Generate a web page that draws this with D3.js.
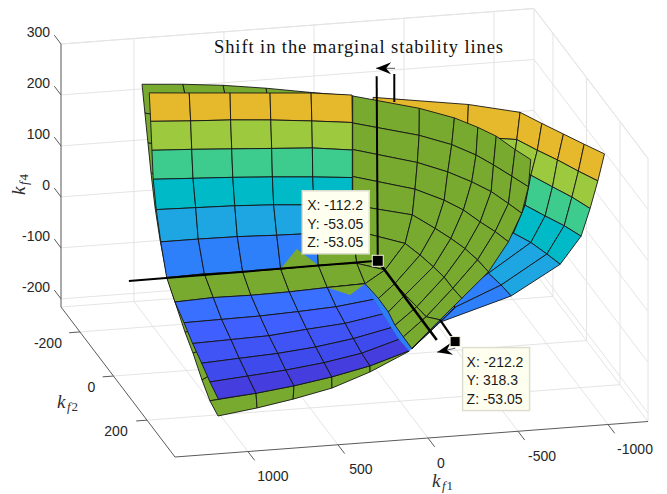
<!DOCTYPE html>
<html><head><meta charset="utf-8">
<script src="https://cdn.jsdelivr.net/npm/d3@7/dist/d3.min.js"></script>
<style>html,body{margin:0;padding:0;background:#fff}svg{display:block}</style>
</head><body><div id="c"></div>
<script>
// ---- axis ticks
const kf1Ticks=[1000,500,0,-500,-1000];
const kf2Ticks=[-200,0,200];
const kf4Ticks=[300,200,100,0,-100,-200];
const kf1Lim=[1405,-1222], kf2Lim=[367,-313], kf4Lim=[-216,300];
// ---- surface bands (coloured by kf4)
const bandColours=["#e6b92d","#9dc93f","#3ecb8e","#00bac8","#1ea6e3","#2e7ffa"];
const lowerColours=["#3a70ff","#3f60ff","#4054f6","#3f4aec","#453ddd"];
const green="#78aa2f";
// ---- far surface, kf2 = 318
const farKf2=318;
const farKf1=[
[259,-270,-557,-678,-798,-913,-1026],
[259,-263,-539,-653,-765,-881,-989],
[259,-241,-517,-617,-737,-845,-946],
[259,-207,-483,-585,-696,-802,-896],
[259,-129,-409,-520,-617,-706,-780],
[259,-41,-298,-335,-381,-452,-507],
[-2,-57,-113,-113,-168,-196,-113],
[44,44,44,44,44,44,44]];
const farKf4=[
[438,410,387,362,338,315,293],
[384,348,334,310,288,263,241],
[315,282,275,262,236,213,188],
[256,224,210,204,180,158,135],
[197,167,166,151,130,105,83],
[148,136,117,103,76,51,28],
[34,52,56,44,29,14,-13],
[-61,-61,-61,-61,-61,-61,-61]];
// ---- near coloured surface, kf2 = -53
const nearKf2=-53;
const panelKf1=[
[1157,935,708,486,258,31],
[1149,927,705,482,254,29],
[1142,921,699,477,251,29],
[1135,914,693,473,249,29],
[1118,899,682,466,242,29],
[1093,885,668,449,227,31],
[1060,851,638,427,218,4],
[1014,801,592,379,168,-42],
[964,755,542,329,119,-92],
[916,703,492,282,69,-143],
[866,657,443,232,23,-190],
[820,610,399,186,-23,-232],
[773,564,353,143,-69,-288]];
const panelKf4=[
[310,304,298,292,286,276],
[254,249,245,239,231,222],
[197,193,188,183,178,168],
[140,136,132,127,121,114],
[80,78,76,72,66,59],
[16,16,15,12,10,5],
[-55,-53,-55,-55,-53,-55],
[-104,-101,-102,-101,-98,-96],
[-146,-145,-144,-141,-137,-128],
[-188,-186,-184,-177,-171,-158],
[-228,-224,-220,-213,-202,-186],
[-266,-260,-254,-245,-232,-210],
[-301,-295,-286,-274,-258,-234]];
const sliverKf1=[-42,-181,-236,-292,-329,-288];
const sliverKf4=[-96,-125,-156,-188,-212,-234];
const notchUpper=[338,-18], notchLower=[42,-116];
// ---- green rim behind the panel
const rimLeftKf1=[1197,1181,1164,1147,1125,1097,1058,1014,958,914,864,820,775];
const rimLeftKf4=[328,271,212,152,85,20,-54,-104,-165,-207,-261,-303,-334];
const rimTopKf1=[1197,970,747,508,275,25];
const rimTopKf4=[328,322,314,302,288,274];
const rimBottomKf1=[775,558,358,142,-69,-281];
const rimBottomKf4=[-334,-324,-312,-296,-270,-236];
// ---- front green fan
const fanKf1=[
[27,-343,-538,-668,-770,-875,-962],
[27,-342,-523,-658,-755,-857,-949],
[27,-332,-501,-634,-742,-838,-912],
[27,-319,-481,-588,-681,-764,-838],
[27,-304,-431,-518,-597,-666,-727],
[27,-264,-347,-421,-481,-529,-579],
[4,-153,-208,-264,-329,-381,-458],
[-42,-42,-116,-171,-208,-254,-301]];
const fanKf4=[
[274,240,216,194,174,145,123],
[221,187,164,140,118,93,70],
[169,134,111,88,66,40,19],
[116,82,56,34,8,-13,-35],
[60,32,2,-20,-42,-66,-91],
[11,-23,-48,-73,-95,-118,-139],
[-55,-72,-100,-124,-149,-170,-178],
[-96,-96,-127,-155,-182,-206,-230]];
// ---- annotation lines [kf1,kf2,kf4]
const tip1=[-112.2,-53.05,-53.05], tip2=[-196,318.3,-53.05];
const tip1Text=["X: -112.2","Y: -53.05","Z: -53.05"];
const tip2Text=["X: -212.2","Y: 318.3","Z: -53.05"];
const stabilityLines=[
 [[1270,-53,-56],tip1,2],
 [[-106,-53,309],tip1,2],
 [[-204,-53,311],[-204,-53,256],2],
 [tip1,[-440,-53,-217],2.6],
 [[-458,-53,-178],tip2,2.2]];
const arrows=[
 [[-208,-53,322],[-103,-53,325]],
 [[-542,-53,-236],[-442,-53,-241]]];
const titleText="Shift in the marginal stability lines";

// ---- projection through scales
const W=667,H=494;
const x1=d3.scaleLinear().domain(kf1Lim).range([175,648]);
const y1=d3.scaleLinear().domain(kf1Lim).range([457,421.5]);
const x2=d3.scaleLinear().domain(kf2Lim).range([0,-114]);
const y2=d3.scaleLinear().domain(kf2Lim).range([0,-150]);
const z=d3.scaleLinear().domain(kf4Lim).range([0,-263]);
const project=(a,b,c)=>[x1(a)+x2(b),y1(a)+y2(b)+z(c)];
const svg=d3.select("#c").append("svg").attr("width",W).attr("height",H)
 .style("font-family","'Liberation Sans',Arial,sans-serif");
const line=d3.line();
const seg=(p,q,col,w)=>svg.append("path").attr("d",line([project(...p),project(...q)])).attr("stroke",col).attr("stroke-width",w).attr("fill","none");

// ---- grid walls
const gridCol="#e4e4e4";
const [aMax,aMin]=kf1Lim,[bMax,bMin]=kf2Lim,[cMin,cMax]=kf4Lim;
kf4Ticks.forEach(c=>{seg([aMax,bMin,c],[aMin,bMin,c],gridCol,1);seg([aMin,bMin,c],[aMin,bMax,c],gridCol,1);});
kf1Ticks.forEach(a=>{seg([a,bMin,cMin],[a,bMin,cMax],gridCol,1);seg([a,bMin,cMin],[a,bMax,cMin],gridCol,1);});
kf2Ticks.forEach(b=>{seg([aMin,b,cMin],[aMin,b,cMax],gridCol,1);seg([aMax,b,cMin],[aMin,b,cMin],gridCol,1);});
seg([aMax,bMin,cMax],[aMin,bMin,cMax],gridCol,1);
seg([aMin,bMin,cMax],[aMin,bMax,cMax],gridCol,1);
seg([aMin,bMin,cMin],[aMin,bMin,cMax],gridCol,1);
seg([aMin,bMin,cMin],[aMin,bMax,cMin],gridCol,1);
seg([aMin,bMax,cMin],[aMin,bMax,cMax],gridCol,1);
seg([aMax,bMin,cMin],[aMin,bMin,cMin],gridCol,1);

// ---- axes
seg([aMax,bMin,cMin],[aMax,bMin,cMax],"#959595",1.6);
seg([aMax,bMin,cMin],[aMax,bMax,cMin],"#5a5a5a",1);
seg([aMax,bMax,cMin],[aMin,bMax,cMin],"#5a5a5a",1);
kf4Ticks.forEach(c=>seg([aMax,bMin,c],[aMax,bMin-40,c],"#5a5a5a",1));
kf2Ticks.forEach(b=>seg([aMax,b,cMin],[aMax+60,b,cMin],"#5a5a5a",1));
kf1Ticks.forEach(a=>seg([a,bMax,cMin],[a,bMax+40,cMin],"#5a5a5a",1));
const tickFont={size:14,col:"#262626"};
const label=(x,y,t,anchor)=>svg.append("text").attr("x",x).attr("y",y).attr("text-anchor",anchor||"middle")
 .attr("dominant-baseline","central").attr("font-size",tickFont.size).attr("fill",tickFont.col).text(t);
kf4Ticks.forEach(c=>{const p=project(aMax,bMin,c);label(p[0]-11,p[1]-12,c,"end");});
const kf2Off=[[-32,11],[-22,11],[-31,11]];
kf2Ticks.forEach((b,i)=>{const p=project(aMax,b,cMin);label(p[0]+kf2Off[i][0],p[1]+kf2Off[i][1],b);});
const kf1Off=[[25,24],[23,24],[13,25],[24,25],[27,24]];
kf1Ticks.forEach((a,i)=>{const p=project(a,bMax,cMin);label(p[0]+kf1Off[i][0],p[1]+kf1Off[i][1],a);});
function mathLabel(x,y,sub,rot){
 const t=svg.append("text").attr("transform",`translate(${x},${y}) rotate(${rot})`)
  .attr("font-family","'Liberation Serif',serif").attr("fill","#303030");
 t.append("tspan").attr("font-style","italic").attr("font-size",19).text("k");
 t.append("tspan").attr("font-style","italic").attr("font-size",13).attr("dy",3).attr("dx",1.5).text("f");
 t.append("tspan").attr("font-size",13).attr("dx",1).text(sub);
}
mathLabel(25,195,"4",-90);
mathLabel(57,408,"2",0);
mathLabel(432,487,"1",0);

// ---- surfaces
const stroke="#161616";
function quad(pts,fill,sw,sc){
 svg.append("path").attr("d",line(pts)+"Z").attr("fill",fill).attr("stroke",sc===undefined?stroke:sc).attr("stroke-width",sw===undefined?0.9:sw).attr("stroke-linejoin","round");
}
function gridNodes(k1,k4,k2){return k1.map((r,i)=>r.map((v,j)=>project(v,k2,k4[i][j])));}
function drawGrid(nodes,colour){
 for(let i=0;i<nodes.length-1;i++)for(let j=0;j<nodes[0].length-1;j++)
  quad([nodes[i][j],nodes[i][j+1],nodes[i+1][j+1],nodes[i+1][j]],colour(i,j));
}
const farColours=[...bandColours,bandColours[5]];
drawGrid(gridNodes(farKf1,farKf4,farKf2),i=>farColours[i]);

// green rim built from its outer edges and the panel's nodes
const panel=gridNodes(panelKf1,panelKf4,nearKf2);
const rim=panel.map((r,i)=>r.map((n,j)=>{
 if(j===0)return project(rimLeftKf1[i],nearKf2,rimLeftKf4[i]);
 if(i===0)return project(rimTopKf1[j],nearKf2,rimTopKf4[j]);
 if(i===12)return project(rimBottomKf1[j],nearKf2,rimBottomKf4[j]);
 if(i===11)return panel[12][j];
 return n;}));
drawGrid(rim,()=>green);

drawGrid(panel,(i,j)=>{
 if(i<5)return bandColours[i];
 if(i===5)return j===4?green:bandColours[5];
 if(i===6)return green;
 return lowerColours[i-7];
});
// bright blue sliver beside the panel, painted over its last column line
const sliver=sliverKf1.map((v,i)=>project(v,nearKf2,sliverKf4[i]));
for(let i=0;i<5;i++)quad([panel[i+7][5],sliver[i],sliver[i+1],panel[i+8][5]],bandColours[5],1.1,bandColours[5]);
// intersection notches of the green surface through the coloured one
quad([panel[6][3],project(notchUpper[0],nearKf2,notchUpper[1]),panel[6][4]],green,0);
svg.append("path").attr("d",line([panel[6][3],panel[6][4]])).attr("stroke",stroke).attr("stroke-width",0.9).attr("fill","none");
quad([panel[7][4],project(notchLower[0],nearKf2,notchLower[1]),panel[7][5]],green,0);
svg.append("path").attr("d",line([panel[7][4],panel[7][5]])).attr("stroke",stroke).attr("stroke-width",0.9).attr("fill","none");

drawGrid(gridNodes(fanKf1,fanKf4,nearKf2),()=>green);

// ---- black marginal-stability lines
stabilityLines.forEach(([p,q,w])=>seg(p,q,"#000",w));
function stealth(a,b){
 const p=project(...a),q=project(...b),d=Math.atan2(q[1]-p[1],q[0]-p[0]);
 svg.append("path").attr("d",line([p,q])).attr("stroke","#555").attr("stroke-width",1).attr("fill","none");
 const rot=(u,v)=>[q[0]+u*Math.cos(d)-v*Math.sin(d),q[1]+u*Math.sin(d)+v*Math.cos(d)];
 svg.append("path").attr("d",line([rot(0,0),rot(-15,-6),rot(-10,0),rot(-15,6)])+"Z").attr("fill","#000");
}
arrows.forEach(a=>stealth(...a));

// ---- data tips
function dataTip(pt,lines,boxDx,boxDy,textDx,size){
 const p=project(...pt);
 const g=svg.append("g");
 g.append("rect").attr("x",p[0]-size/2).attr("y",p[1]-size/2).attr("width",size).attr("height",size)
  .attr("fill","#000").attr("stroke","#f2f2dc").attr("stroke-width",1);
 const bx=p[0]+boxDx,by=p[1]+boxDy;
 g.append("rect").attr("x",bx).attr("y",by).attr("width",67).attr("height",63)
  .attr("fill","#fffff0").attr("stroke","#deded0").attr("stroke-width",1.5);
 lines.forEach((t,i)=>g.append("text").attr("x",bx+textDx).attr("y",by+14.5+18.4*i)
  .attr("dominant-baseline","central").attr("font-size",14).attr("fill","#1a1a1a").text(t));
}
dataTip(tip1,tip1Text,-75.5,-70,5,11);
dataTip(tip2,tip2Text,7.5,6,4,10);

// ---- title
svg.append("text").attr("x",214).attr("y",53).attr("font-family","'Liberation Serif',serif")
 .attr("font-size",18.5).attr("fill","#111").attr("textLength",289).attr("lengthAdjust","spacing").text(titleText);
</script></body></html>
